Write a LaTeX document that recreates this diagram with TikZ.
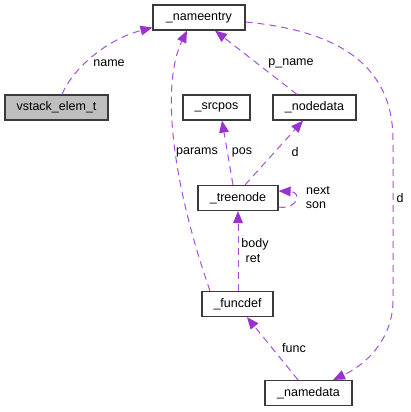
\documentclass[tikz,border=0pt]{standalone}
\usepackage{fontspec}
\setmainfont{Liberation Sans}
\usetikzlibrary{arrows.meta}
\definecolor{edgec}{HTML}{9A32CD}
\definecolor{edgeline}{HTML}{A650D8}
\definecolor{boxline}{HTML}{3A3A3A}
\begin{document}
\begin{tikzpicture}[x=1pt,y=-1pt,
  every node/.style={font=\fontsize{12.5}{14}\selectfont, inner sep=0pt},
  cls/.style={draw=boxline, line width=1.2pt, fill=white, minimum height=25pt, anchor=center},
  rel/.style={draw=edgeline, line width=1pt, dash pattern=on 7pt off 5pt,
    -{Triangle[length=12pt,width=10pt,fill=edgec,color=edgec,line width=0pt]}},
  lbl/.style={anchor=center}]
\useasboundingbox (0,0) rectangle (411,412);
% classes
\node[cls, minimum width=92pt] (ne) at (199,17.5) {\_nameentry};
\node[cls, minimum width=103pt, fill=black!25] (vs) at (56.5,107.5) {vstack\_elem\_t};
\node[cls, minimum width=67pt] (sp) at (216.5,107.5) {\_srcpos};
\node[cls, minimum width=83pt] (nd) at (314.5,107.5) {\_nodedata};
\node[cls, minimum width=80pt] (tn) at (238,198) {\_treenode};
\node[cls, minimum width=71pt] (fd) at (237.5,304) {\_funcdef};
\node[cls, minimum width=87pt] (nm) at (308.5,393) {\_namedata};
% relations
\draw[rel] ([xshift=5.5pt]vs.north) .. controls (72,70) and (105,40) .. ([yshift=-10pt]ne.west);
\draw[rel] ([xshift=-27.5pt]fd.north) .. controls (168,170) and (163,80) .. ([xshift=-12pt]ne.south);
\draw[rel] ([xshift=-5pt]tn.north) -- ([xshift=5.5pt]sp.south);
\draw[rel] ([xshift=7pt]tn.north) -- ([xshift=-11.5pt]nd.south);
\draw[rel] ([xshift=-17.5pt]nd.north) -- ([xshift=16pt]ne.south);
\draw[rel] ([yshift=-9pt]tn.east) .. controls (298,210) and (302,192) .. ([yshift=7pt]tn.east);
\draw[rel] ([xshift=0.5pt]fd.north) -- (tn.south);
\draw[rel] ([xshift=-10.5pt]nm.north) -- ([xshift=9.5pt]fd.south);
\draw[rel] ([yshift=-4.5pt]ne.east) .. controls (330,30) and (393,60) .. (393,140) -- (393,300) .. controls (393,340) and (365,365) .. ([xshift=24.5pt]nm.north);
% labels
\node[lbl] (lname) at (109,63) {name};
\node[lbl] (lpname) at (291,63) {p\_name};
\node[lbl] (lparams) at (197,152) {params};
\node[lbl] (lpos) at (242,152) {pos};
\node[lbl] (ld1) at (295,152) {d};
\node[lbl] (lnext) at (318,191) {next};
\node[lbl] (lson) at (316,205) {son};
\node[lbl] (lbody) at (255,244) {body};
\node[lbl] (lret) at (253,259) {ret};
\node[lbl] (lfunc) at (294,348) {func};
\node[lbl] (ld2) at (400,198) {d};
\end{tikzpicture}
\end{document}
